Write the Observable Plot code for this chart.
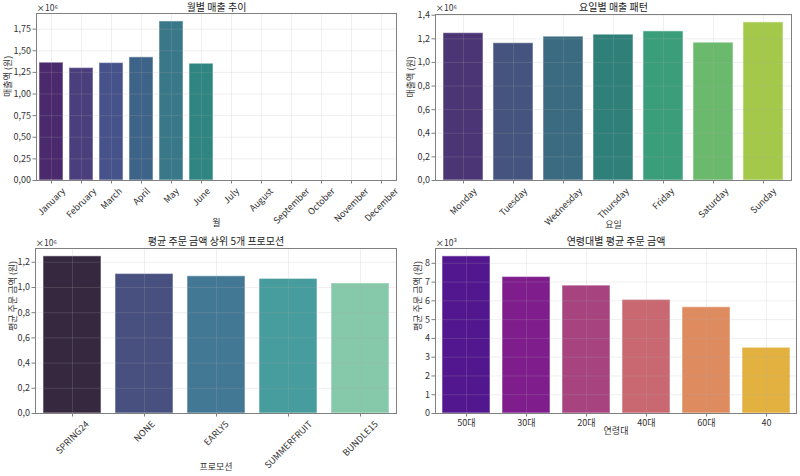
<!DOCTYPE html>
<html><head><meta charset="utf-8">
<script src="https://cdn.jsdelivr.net/npm/d3@7"></script>
<script src="https://cdn.jsdelivr.net/npm/@observablehq/plot@0.6"></script>
<style>
body{margin:0;background:#fff;font-family:"Noto Sans CJK KR",sans-serif;}
#root{position:relative;width:800px;height:476px;overflow:hidden;background:#fff;}
.panel{position:absolute;width:400px;height:238px;}
.panel svg{position:absolute;left:0;top:0;overflow:visible;}
</style></head><body><div id="root"></div>
<script>
// ---- data ----
const months = ["January","February","March","April","May","June","July","August","September","October","November","December"];
const monthlySales = [1362000, 1300000, 1358000, 1424000, 1839000, 1350000, null, null, null, null, null, null];

const weekdays = ["Monday","Tuesday","Wednesday","Thursday","Friday","Saturday","Sunday"];
const weekdaySales = [1248000, 1163000, 1218000, 1235000, 1263000, 1167000, 1339000];

const promos = ["SPRING24","NONE","EARLY5","SUMMERFRUIT","BUNDLE15"];
const promoAvg = [1247000, 1107000, 1089000, 1068000, 1032000];

const ageGroups = ["50대","30대","20대","40대","60대","40"];
const ageAvg = [8370, 7270, 6810, 6050, 5660, 3500];

const monthTicks = [0, 250000, 500000, 750000, 1000000, 1250000, 1500000, 1750000];
const weekdayTicks = [0, 200000, 400000, 600000, 800000, 1000000, 1200000, 1400000];
const promoTicks = [0, 200000, 400000, 600000, 800000, 1000000, 1200000];
const ageTicks = [0, 1000, 2000, 3000, 4000, 5000, 6000, 7000, 8000];

// ---- palettes (styles) ----
const viridisMonths = ["#4a2a6d","#4b3e7d","#46528a","#3e6389","#387889","#2e8581","#2a9480","#38a57a","#5cb86c","#86c65a","#b3d24a","#dde33e"];
const viridisDays = ["#4b3574","#45547e","#3a6b80","#2e8079","#3a9e7a","#6ab96c","#a4c84a"];
const makoPromos = ["#35283f","#48507f","#437895","#479c9d","#85c8aa"];
const plasmaAges = ["#52178e","#7f1d8d","#a7437f","#c96871","#dd8b5f","#e2b13f"];

const FONT = '"Noto Sans CJK KR", sans-serif';
const TICK_FS = 9;
const ctx = document.createElement("canvas").getContext("2d");
function measure(t, fs) { ctx.font = `${fs}px ${FONT}`; return ctx.measureText(t).width; }

function fmtFactory(scaleExp, digits) {
  return v => (v / Math.pow(10, scaleExp)).toFixed(digits).replace(".", ",");
}

function makePanel(cfg) {
  const {left, top, m, cats, vals, palette, ticks, exp, digits, title, yLabel, xLabel, rotated, yLabelDx, xLabelDy, titleDy, multDy} = cfg;
  const data = cats.map((c, i) => ({c, v: vals[i]})).filter(d => d.v != null);
  const ymax = d3.max(vals) * 1.05;
  const fmt = fmtFactory(exp, digits);
  const labelMarks = rotated
    ? cats.map(l => Plot.text([l], {
        x: d => d, text: d => d, frameAnchor: "bottom", rotate: -45,
        textAnchor: "end", lineAnchor: "middle",
        dx: 0.354 * measure(l, TICK_FS), dy: 6 + 0.354 * TICK_FS,
        fontSize: TICK_FS, fill: "#333"
      }))
    : [Plot.text(cats, {x: d => d, text: d => d, frameAnchor: "bottom", dy: 9.7, lineAnchor: "middle", fontSize: TICK_FS, fill: "#333"})];
  const chart = Plot.plot({
    width: 400, height: 238,
    marginLeft: m[0], marginRight: m[1], marginTop: m[2], marginBottom: m[3],
    x: {domain: cats, paddingInner: 0.2, paddingOuter: 0.1, align: 0.5, axis: null},
    y: {domain: [0, ymax], axis: null},
    color: {domain: cats, range: palette},
    style: {fontFamily: FONT, color: "#333", background: "transparent", overflow: "visible"},
    marks: [
      Plot.barY(data, {x: "c", y: "v", fill: "c", stroke: "white", strokeOpacity: 0.45, strokeWidth: 1.2}),
      Plot.gridY(ticks, {stroke: "#b0b0b0", strokeOpacity: 0.25, strokeWidth: 0.8}),
      Plot.gridX(cats, {stroke: "#b0b0b0", strokeOpacity: 0.25, strokeWidth: 0.8}),
      Plot.frame({stroke: "#808080", strokeWidth: 1}),
      Plot.axisY(ticks, {tickFormat: fmt, tickSize: 3.5, tickPadding: 2, fontSize: TICK_FS, stroke: "#808080", fill: "#333", label: null}),
      Plot.axisX(cats, {tickFormat: () => "", tickSize: 3.5, stroke: "#808080", label: null}),
      ...labelMarks,
      Plot.text([title], {text: d => d, frameAnchor: "top", dy: titleDy, lineAnchor: "middle", fontSize: 10, fill: "#222"}),
      Plot.text([exp === 3 ? "×10³" : "×10⁶"], {text: d => d, frameAnchor: "top-left", textAnchor: "start", dy: multDy, lineAnchor: "middle", fontSize: 8.5, fill: "#333"}),
      Plot.text([yLabel], {text: d => d, frameAnchor: "left", rotate: -90, dx: yLabelDx, lineAnchor: "middle", fontSize: 9, fill: "#333"}),
      Plot.text([xLabel], {text: d => d, frameAnchor: "bottom", dy: xLabelDy, lineAnchor: "middle", fontSize: 9, fill: "#333"})
    ]
  });
  const div = document.createElement("div");
  div.className = "panel";
  div.style.left = left + "px";
  div.style.top = top + "px";
  div.appendChild(chart);
  document.getElementById("root").appendChild(div);
}

makePanel({left: 0, top: 0, m: [36, 4, 13, 58], cats: months, vals: monthlySales, palette: viridisMonths,
  ticks: monthTicks, exp: 6, digits: 2, title: "월별 매출 추이", yLabel: "매출액 (원)", xLabel: "월",
  rotated: true, yLabelDx: -28, xLabelDy: 42.7, titleDy: -5.7, multDy: -5});
makePanel({left: 400, top: 0, m: [35, 9, 14, 58], cats: weekdays, vals: weekdaySales, palette: viridisDays,
  ticks: weekdayTicks, exp: 6, digits: 1, title: "요일별 매출 패턴", yLabel: "매출액 (원)", xLabel: "요일",
  rotated: true, yLabelDx: -24, xLabelDy: 45, titleDy: -6.5, multDy: -6});
makePanel({left: 0, top: 238, m: [35, 4, 10, 63], cats: promos, vals: promoAvg, palette: makoPromos,
  ticks: promoTicks, exp: 6, digits: 1, title: "평균 주문 금액 상위 5개 프로모션", yLabel: "평균 주문 금액 (원)", xLabel: "프로모션",
  rotated: true, yLabelDx: -22, xLabelDy: 54, titleDy: -6.3, multDy: -5});
makePanel({left: 400, top: 238, m: [35, 4, 10, 63], cats: ageGroups, vals: ageAvg, palette: plasmaAges,
  ticks: ageTicks, exp: 3, digits: 0, title: "연령대별 평균 주문 금액", yLabel: "평균 주문 금액 (원)", xLabel: "연령대",
  rotated: false, yLabelDx: -17, xLabelDy: 18, titleDy: -6.3, multDy: -5});
</script></body></html>
